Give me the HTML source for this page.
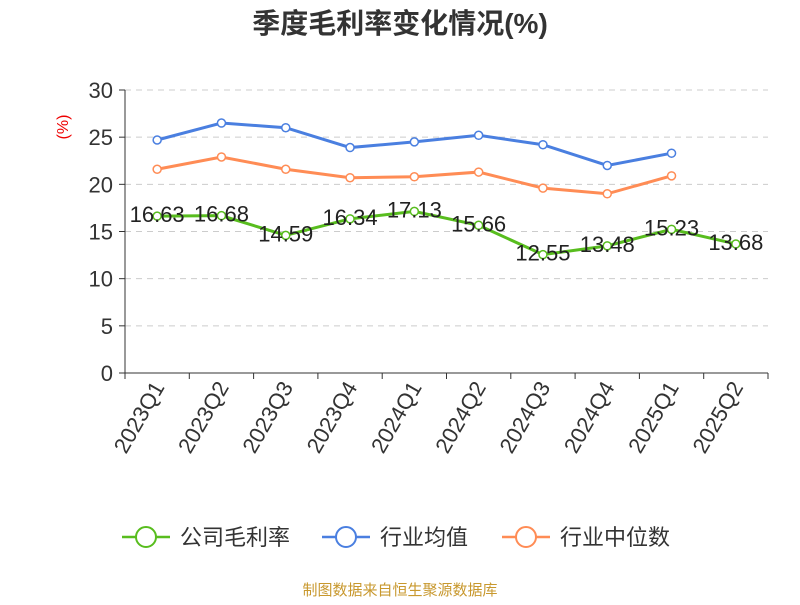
<!DOCTYPE html>
<html><head><meta charset="utf-8"><style>
body{margin:0;background:#fff;width:800px;height:600px;overflow:hidden;font-family:"Liberation Sans","Noto Sans CJK SC",sans-serif}
</style></head><body>
<svg id="chart" width="800" height="600" xmlns="http://www.w3.org/2000/svg" font-family="Liberation Sans, Noto Sans CJK SC, sans-serif">
<text x="400" y="33" text-anchor="middle" font-size="28" font-weight="bold" fill="#333">季度毛利率变化情况(%)</text>
<text x="68" y="127" text-anchor="middle" font-size="16" fill="#e00" transform="rotate(-90 68 127)">(%)</text>
<g id="grid"></g><g id="axes"></g><g id="series"></g>
<g id="legend"></g>
<text x="400" y="595" text-anchor="middle" font-size="15" fill="#c8982e">制图数据来自恒生聚源数据库</text>
</svg>
<script>
const categories=["2023Q1","2023Q2","2023Q3","2023Q4","2024Q1","2024Q2","2024Q3","2024Q4","2025Q1","2025Q2"];
const companyValues=[16.63,16.68,14.59,16.34,17.13,15.66,12.55,13.48,15.23,13.68];
const industryAvg=[24.7,26.5,26.0,23.9,24.5,25.2,24.2,22.0,23.3];
const industryMedian=[21.6,22.9,21.6,20.7,20.8,21.3,19.6,19.0,20.9];
const yTicks=[0,5,10,15,20,25,30];
const seriesNames=["公司毛利率","行业均值","行业中位数"];
const NS="http://www.w3.org/2000/svg";
const x0=125,x1=768,yBase=373,yTop=90,yMax=30;
const band=(x1-x0)/categories.length;
const xs=i=>x0+band*(i+0.5);
const ys=v=>yBase-(v/yMax)*(yBase-yTop);
function mk(tag,attrs,parent){const e=document.createElementNS(NS,tag);for(const k in attrs)e.setAttribute(k,attrs[k]);parent.appendChild(e);return e;}
const grid=document.getElementById('grid'),axes=document.getElementById('axes'),ser=document.getElementById('series'),leg=document.getElementById('legend');
yTicks.forEach(t=>{
 if(t>0){const l=mk('line',{x1:x0,x2:x1,y1:ys(t),y2:ys(t),stroke:'#ccc','stroke-dasharray':'6,5'},grid);
 
 }
 mk('line',{x1:x0-6,x2:x0,y1:ys(t),y2:ys(t),stroke:'#333'},axes);
 const tx=mk('text',{x:x0-12,y:ys(t)+8,'text-anchor':'end','font-size':22,fill:'#333'},axes);tx.textContent=t;
 
 
});
const ya=mk('line',{x1:x0,x2:x0,y1:yTop,y2:yBase,stroke:'#333'},axes);


const xa=mk('line',{x1:x0,x2:x1,y1:yBase,y2:yBase,stroke:'#333'},axes);


for(let i=0;i<=categories.length;i++)mk('line',{x1:x0+band*i,x2:x0+band*i,y1:yBase,y2:yBase+6,stroke:'#333'},axes);
categories.forEach((c,i)=>{const x=xs(i)+8,y=yBase+14;
 const t=mk('text',{x:x,y:y,'text-anchor':'end','font-size':22,fill:'#333',transform:`rotate(-60 ${x} ${y})`},axes);t.textContent=c;
 
 });
function drawSeries(vals,color,name,labels){
 const g=mk('g',{},ser);
 
 
 mk('polyline',{points:vals.map((v,i)=>xs(i)+','+ys(v)).join(' '),fill:'none',stroke:color,'stroke-width':3},g);
 vals.forEach((v,i)=>{const c=mk('circle',{cx:xs(i),cy:ys(v),r:4,fill:'#fff',stroke:color,'stroke-width':1.5},g);
 
 
 if(labels){const t=mk('text',{x:xs(i),y:ys(v)+6,'text-anchor':'middle','font-size':22,fill:'#222'},g);t.textContent=v.toFixed(2);
 
 }});
}
drawSeries(industryAvg,'#4a7fe0','industry-average-line',false);
drawSeries(industryMedian,'#ff8c55','industry-median-line',false);
drawSeries(companyValues,'#58bd1e','company-margin-line',true);
const legCols=['#58bd1e','#4a7fe0','#ff8c55'],legX=[122,322,502];
seriesNames.forEach((n,i)=>{const g=mk('g',{},leg);
 
 
 mk('line',{x1:legX[i],x2:legX[i]+48,y1:537,y2:537,stroke:legCols[i],'stroke-width':2.5},g);
 mk('circle',{cx:legX[i]+24,cy:537,r:10,fill:'#fff',stroke:legCols[i],'stroke-width':2},g);
 const t=mk('text',{x:legX[i]+58,y:545,'font-size':22,fill:'#333'},g);t.textContent=n;});
</script>
</body></html>
